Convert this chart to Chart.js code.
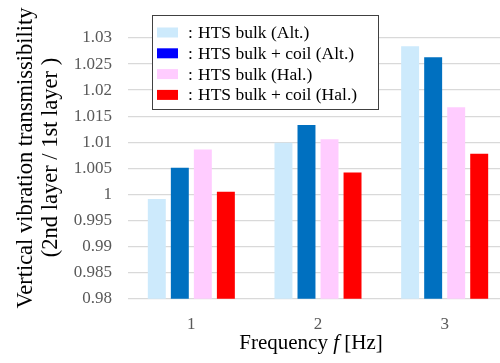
<!DOCTYPE html>
<html>
<head>
<meta charset="utf-8">
<script src="https://cdn.jsdelivr.net/npm/chart.js@4"></script>
<style>
  html, body { margin: 0; padding: 0; background: #fff; overflow: hidden; width: 500px; height: 363px; }
  #wrap { width: 500px; height: 363px; overflow: hidden; }
</style>
</head>
<body>
<div id="wrap"><canvas id="chart" width="508" height="363"></canvas></div>
<script>
// ---------------- DATA ----------------
const categories = ['1', '2', '3'];
const altBulk = [0.9991, 1.0099, 1.0284];
const altCoil = [1.0051, 1.0133, 1.0263];
const halBulk = [1.0086, 1.0106, 1.0167];
const halCoil = [1.0005, 1.0042, 1.0078];
const seriesLabels = ['HTS bulk (Alt.)', 'HTS bulk + coil (Alt.)', 'HTS bulk (Hal.)', 'HTS bulk + coil (Hal.)'];
const barColors = ['#cdeafc', '#0070c0', '#ffccff', '#ff0000'];
const legendColors = ['#cdeafc', '#0000ff', '#ffccff', '#ff0000'];
const yMin = 0.98, yMax = 1.03, yStep = 0.005;

const SERIF = "'Liberation Serif', 'Times New Roman', serif";

// -------- custom legend + axis titles --------
const decorPlugin = {
  id: 'decor',
  afterDraw(chart) {
    const ctx = chart.ctx;
    ctx.save();

    // legend box
    ctx.fillStyle = '#fff';
    ctx.fillRect(152, 15, 227, 95);
    ctx.strokeStyle = '#404040';
    ctx.lineWidth = 1;
    ctx.strokeRect(152.5, 15.5, 226, 94);

    ctx.font = '17.5px ' + SERIF;
    ctx.textBaseline = 'middle';
    ctx.textAlign = 'left';
    seriesLabels.forEach((lab, i) => {
      const cy = 32.5 + i * 20.8;
      ctx.fillStyle = legendColors[i];
      ctx.fillRect(157, cy - 5, 21, 10);
      ctx.fillStyle = '#000';
      ctx.fillText(':', 188, cy + 1);
      ctx.fillText(lab, 198, cy + 1);
    });

    // x title with italic f
    const parts = [
      { t: 'Frequency ', f: '21px ' + SERIF },
      { t: 'f', f: 'italic 21px ' + SERIF },
      { t: ' [Hz]', f: '21px ' + SERIF }
    ];
    let total = 0;
    parts.forEach(p => { ctx.font = p.f; p.w = ctx.measureText(p.t).width; total += p.w; });
    let x = 311 - total / 2;
    ctx.fillStyle = '#000';
    parts.forEach(p => { ctx.font = p.f; ctx.fillText(p.t, x, 343); x += p.w; });

    // y title (two rotated lines)
    ctx.font = '22.5px ' + SERIF;
    ctx.textAlign = 'center';
    ctx.textBaseline = 'alphabetic';
    ctx.save();
    ctx.translate(31.5, 158);
    ctx.rotate(-Math.PI / 2);
    ctx.fillText('Vertical vibration transmissibility', 0, 0);
    ctx.restore();
    ctx.save();
    ctx.translate(57, 157.5);
    ctx.rotate(-Math.PI / 2);
    ctx.fillText('(2nd layer / 1st layer )', 0, 0);
    ctx.restore();

    ctx.restore();
  }
};

const datasets = [altBulk, altCoil, halBulk, halCoil].map((vals, i) => ({
  label: seriesLabels[i],
  data: vals,
  backgroundColor: barColors[i],
  borderWidth: 0,
  categoryPercentage: 0.727,
  barPercentage: 0.78
}));

new Chart(document.getElementById('chart'), {
  type: 'bar',
  data: { labels: categories, datasets },
  options: {
    responsive: false,
    animation: false,
    layout: { padding: { left: 0, top: 38, right: 0, bottom: 0 } },
    plugins: {
      legend: { display: false },
      tooltip: { enabled: false }
    },
    scales: {
      x: {
        grid: { display: false, drawTicks: false },
        border: { display: false },
        ticks: {
          color: '#595959',
          font: { family: SERIF, size: 17 },
          padding: 16
        },
        afterFit(scale) { scale.height = 64.3; }
      },
      y: {
        min: yMin,
        max: yMax,
        grid: { color: '#d9d9d9', lineWidth: 1.3, drawTicks: false },
        border: { display: false },
        ticks: {
          stepSize: yStep,
          color: '#595959',
          font: { family: SERIF, size: 17 },
          padding: 16,
          callback: v => String(+v.toFixed(3))
        },
        afterFit(scale) { scale.width = 128; }
      }
    }
  },
  plugins: [decorPlugin]
});
</script>
</body>
</html>
